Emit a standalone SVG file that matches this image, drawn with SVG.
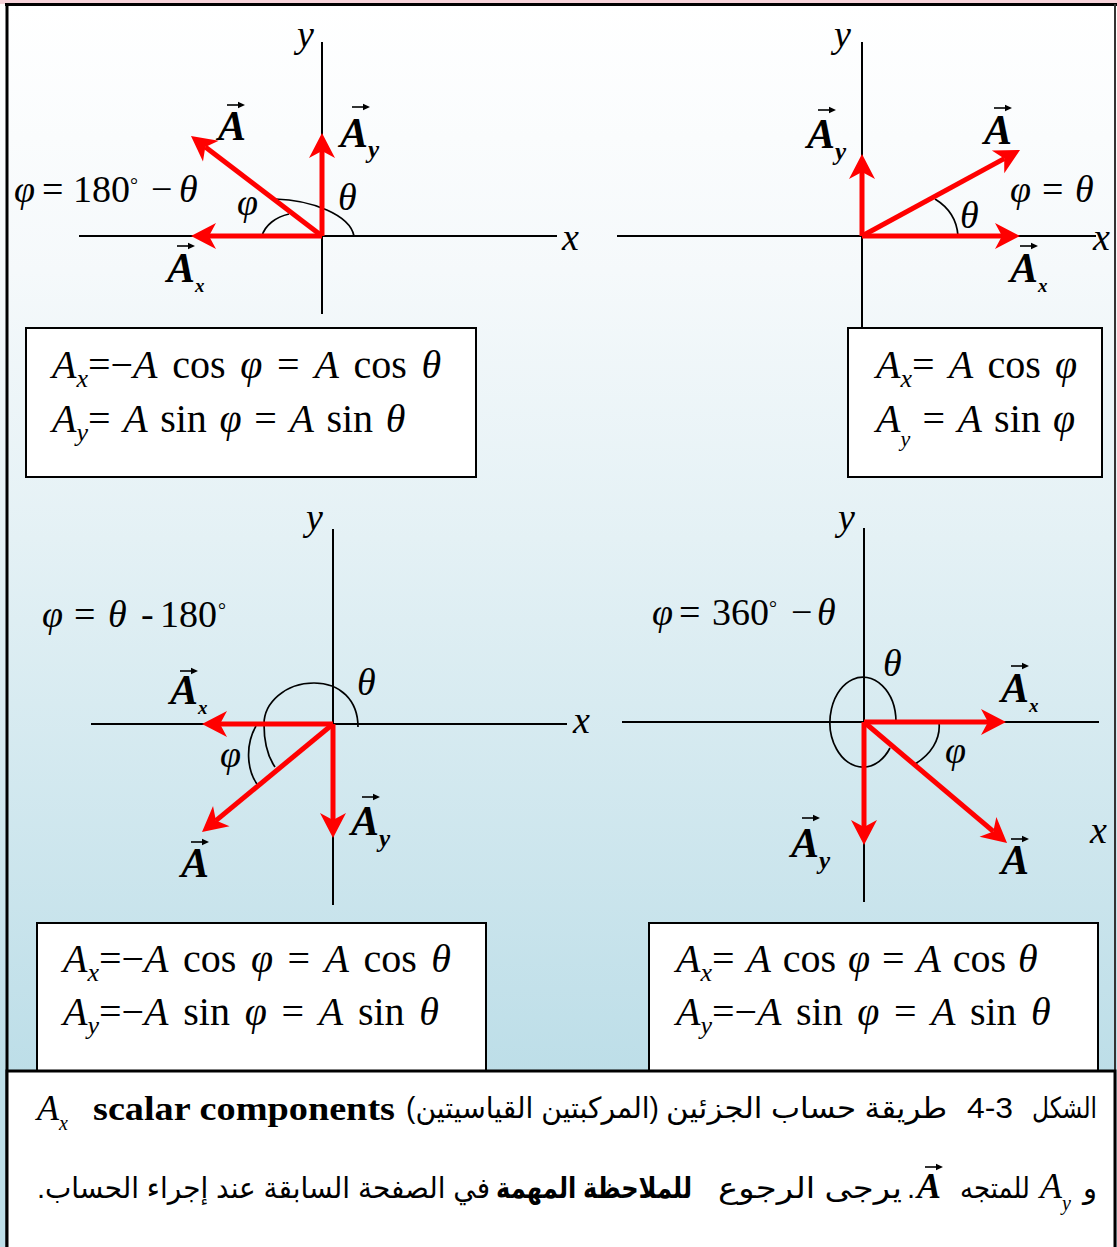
<svg xmlns="http://www.w3.org/2000/svg" xmlns:xlink="http://www.w3.org/1999/xlink" width="1117" height="1247" viewBox="0 0 1117 1247">
<defs>
<linearGradient id="bg" x1="0" y1="4" x2="0" y2="1072" gradientUnits="userSpaceOnUse">
<stop offset="0" stop-color="#ffffff"/>
<stop offset="0.25" stop-color="#f5f9fb"/>
<stop offset="0.5" stop-color="#e4f1f5"/>
<stop offset="1" stop-color="#bddee8"/>
</linearGradient>
<marker id="ah" markerUnits="userSpaceOnUse" markerWidth="30" markerHeight="30" viewBox="-10 -15 30 30" refX="0" refY="0" orient="auto" overflow="visible">
<path d="M18,0 L-7,-13 L0,0 L-7,13 Z" fill="#ff0000"/>
</marker>
<g id="vec"><path d="M0,0 H13" stroke="#000" stroke-width="1.6"/><path d="M18,0 L11,-3.2 L11,3.2 Z" fill="#000"/></g>
</defs>
<style>
.ax{stroke:#000;stroke-width:2;fill:none}
.arc{stroke:#000;stroke-width:1.7;fill:none}
.v{stroke:#ff0000;stroke-width:5;fill:none;marker-end:url(#ah)}
.t{font-family:'Liberation Serif','Times New Roman',serif;fill:#000}
.it{font-style:italic}
.bi{font-weight:bold;font-style:italic}
.box{fill:#fff;stroke:#000;stroke-width:2}
.eq{font-family:'Liberation Serif','Times New Roman',serif;font-size:40px;fill:#000}
.lab{font-family:'Liberation Serif','Times New Roman',serif;font-style:italic;font-size:38px;fill:#000}
.va{font-family:'Liberation Serif','Times New Roman',serif;font-weight:bold;font-style:italic;font-size:42px;fill:#000}
.ar{font-family:'Liberation Sans','DejaVu Sans',sans-serif;font-size:29px;fill:#000}
</style>

<rect x="0" y="0" width="1117" height="1247" fill="url(#bg)"/>
<rect x="0" y="0" width="1117" height="4" fill="#f7d3da"/>
<g id="frame">
<line x1="5" y1="4.5" x2="1117" y2="4.5" stroke="#000" stroke-width="3"/>
<line x1="7" y1="3" x2="7" y2="1247" stroke="#000" stroke-width="3"/>
<line x1="1115" y1="4" x2="1115" y2="1247" stroke="#333" stroke-width="2"/>
</g>

<!-- Panel 1 (top-left) -->
<g id="panel-tl">
<line class="ax" x1="322" y1="42" x2="322" y2="314"/>
<line class="ax" x1="79" y1="236" x2="557" y2="236"/>
<path class="arc" d="M354,236 C350,215 312,200 275,199"/>
<path class="arc" d="M262,236 C265,225 276,217 289,214"/>
<text class="lab" x="297" y="47">y</text>
<text class="lab" x="562" y="250">x</text>
<text class="t" y="202" font-size="38"><tspan class="it" x="14">φ</tspan><tspan x="42">=</tspan><tspan x="73">180</tspan><tspan x="130" y="192" font-size="20">°</tspan><tspan x="151" y="202">−</tspan><tspan class="it" x="179">θ</tspan></text>
<text class="lab" x="237" y="215">φ</text>
<text class="lab" x="338" y="210">θ</text>
<text class="va" x="218" y="140" font-size="40">A</text><use xlink:href="#vec" x="227" y="105"/>
<text class="va" x="340" y="147" font-size="44">A<tspan font-size="25" dy="11">y</tspan></text><use xlink:href="#vec" x="352" y="107"/>
<text class="va" x="167" y="282" font-size="44">A<tspan font-size="19" dy="10">x</tspan></text><use xlink:href="#vec" x="177" y="246"/>
</g>
<g id="box-tl">
<rect class="box" x="26" y="328" width="450" height="149"/>
<text class="eq" x="52" y="378" style="word-spacing:4.7px"><tspan class="it">A</tspan><tspan class="it" font-size="26" dy="9">x</tspan><tspan dy="-9">=−</tspan><tspan class="it">A</tspan> cos <tspan class="it">φ</tspan> = <tspan class="it">A</tspan> cos <tspan class="it">θ</tspan></text>
<text class="eq" x="52" y="432" style="word-spacing:2.6px"><tspan class="it">A</tspan><tspan class="it" font-size="26" dy="9">y</tspan><tspan dy="-9">= </tspan><tspan class="it">A</tspan> sin <tspan class="it">φ</tspan> = <tspan class="it">A</tspan> sin <tspan class="it">θ</tspan></text>
</g>

<!-- Panel 2 (top-right) -->
<g id="panel-tr">
<line class="ax" x1="862" y1="42" x2="862" y2="328"/>
<line class="ax" x1="617" y1="236" x2="1096" y2="236"/>
<path class="arc" d="M958,236 C957,220 948,207 935,199"/>
<text class="lab" x="834" y="47">y</text>
<text class="lab" x="1093" y="250">x</text>
<text class="t" y="202" font-size="38"><tspan class="it" x="1010">φ</tspan><tspan x="1042">=</tspan><tspan class="it" x="1075">θ</tspan></text>
<text class="lab" x="960" y="228">θ</text>
<text class="va" x="807" y="148" font-size="44">A<tspan font-size="25" dy="12">y</tspan></text><use xlink:href="#vec" x="818" y="110"/>
<text class="va" x="984" y="144" font-size="40">A</text><use xlink:href="#vec" x="994" y="108"/>
<text class="va" x="1010" y="282" font-size="44">A<tspan font-size="19" dy="10">x</tspan></text><use xlink:href="#vec" x="1020" y="246"/>
</g>
<g id="box-tr">
<rect class="box" x="848" y="328" width="254" height="149"/>
<text class="eq" x="876" y="378" style="word-spacing:4.2px"><tspan class="it">A</tspan><tspan class="it" font-size="26" dy="9">x</tspan><tspan dy="-9">= </tspan><tspan class="it">A</tspan> cos <tspan class="it">φ</tspan></text>
<text class="eq" x="876" y="432" style="word-spacing:2.3px"><tspan class="it">A</tspan><tspan class="it" font-size="22" dy="14">y</tspan><tspan dy="-14"> = </tspan><tspan class="it">A</tspan> sin <tspan class="it">φ</tspan></text>
</g>

<!-- Panel 3 (bottom-left) -->
<g id="panel-bl">
<line class="ax" x1="333" y1="529" x2="333" y2="905"/>
<line class="ax" x1="91" y1="724" x2="567" y2="724"/>
<path class="arc" d="M358,727 C358,700 340,683 314,683 C285,683 264,703 264,724 C264,742 268,757 275,767"/>
<path class="arc" d="M256,726 C245,745 247,770 257,784"/>
<text class="lab" x="306" y="530">y</text>
<text class="lab" x="573" y="733">x</text>
<text class="t" y="627" font-size="38"><tspan class="it" x="42">φ</tspan><tspan x="74">=</tspan><tspan class="it" x="108">θ</tspan><tspan x="141">-</tspan><tspan x="160">180</tspan><tspan x="218" y="617" font-size="20">°</tspan></text>
<text class="lab" x="357" y="695">θ</text>
<text class="lab" x="220" y="767">φ</text>
<text class="va" x="170" y="704" font-size="42">A<tspan font-size="19" dy="10">x</tspan></text><use xlink:href="#vec" x="180" y="671"/>
<text class="va" x="351" y="835" font-size="44">A<tspan font-size="25" dy="12">y</tspan></text><use xlink:href="#vec" x="362" y="797"/>
<text class="va" x="181" y="877" font-size="42">A</text><use xlink:href="#vec" x="191" y="842"/>
</g>
<g id="box-bl">
<rect class="box" x="37" y="923" width="449" height="170"/>
<text class="eq" x="63" y="972" style="word-spacing:4.5px"><tspan class="it">A</tspan><tspan class="it" font-size="26" dy="9">x</tspan><tspan dy="-9">=−</tspan><tspan class="it">A</tspan> cos <tspan class="it">φ</tspan> = <tspan class="it">A</tspan> cos <tspan class="it">θ</tspan></text>
<text class="eq" x="63" y="1025" style="word-spacing:4.7px"><tspan class="it">A</tspan><tspan class="it" font-size="26" dy="9">y</tspan><tspan dy="-9">=−</tspan><tspan class="it">A</tspan> sin <tspan class="it">φ</tspan> = <tspan class="it">A</tspan> sin <tspan class="it">θ</tspan></text>
</g>

<!-- Panel 4 (bottom-right) -->
<g id="panel-br">
<line class="ax" x1="864" y1="528" x2="864" y2="902"/>
<line class="ax" x1="622" y1="722" x2="1099" y2="722"/>
<path class="arc" d="M896,722 A33,45 0 1 0 890,748"/>
<path class="arc" d="M939,722 C941,740 930,755 915,764"/>
<text class="lab" x="838" y="530">y</text>
<text class="lab" x="1090" y="843">x</text>
<text class="t" y="625" font-size="38"><tspan class="it" x="652">φ</tspan><tspan x="679">=</tspan><tspan x="712">360</tspan><tspan x="769" y="615" font-size="20">°</tspan><tspan x="791" y="625">−</tspan><tspan class="it" x="817">θ</tspan></text>
<text class="lab" x="883" y="676">θ</text>
<text class="lab" x="945" y="763">φ</text>
<text class="va" x="1001" y="702" font-size="44">A<tspan font-size="19" dy="10">x</tspan></text><use xlink:href="#vec" x="1011" y="666"/>
<text class="va" x="791" y="857" font-size="44">A<tspan font-size="25" dy="12">y</tspan></text><use xlink:href="#vec" x="802" y="818"/>
<text class="va" x="1001" y="874" font-size="42">A</text><use xlink:href="#vec" x="1011" y="839"/>
</g>
<g id="box-br">
<rect class="box" x="649" y="923" width="449" height="170"/>
<text class="eq" x="676" y="972" style="word-spacing:1.9px"><tspan class="it">A</tspan><tspan class="it" font-size="26" dy="9">x</tspan><tspan dy="-9">= </tspan><tspan class="it">A</tspan> cos <tspan class="it">φ</tspan> = <tspan class="it">A</tspan> cos <tspan class="it">θ</tspan></text>
<text class="eq" x="676" y="1025" style="word-spacing:4.5px"><tspan class="it">A</tspan><tspan class="it" font-size="26" dy="9">y</tspan><tspan dy="-9">=−</tspan><tspan class="it">A</tspan> sin <tspan class="it">φ</tspan> = <tspan class="it">A</tspan> sin <tspan class="it">θ</tspan></text>
</g>

<!-- vectors (connectors) -->
<g id="vectors">
<line class="v" x1="322" y1="236" x2="322" y2="151"/>
<line class="v" x1="322" y1="236" x2="205.3" y2="146.9"/>
<line class="v" x1="322" y1="236" x2="209" y2="236"/>
<line class="v" x1="862" y1="236" x2="862" y2="172"/>
<line class="v" x1="862" y1="236" x2="1004.2" y2="158.6"/>
<line class="v" x1="862" y1="236" x2="1002" y2="236"/>
<line class="v" x1="333" y1="724" x2="220" y2="724"/>
<line class="v" x1="333" y1="724" x2="215.9" y2="820.6"/>
<line class="v" x1="333" y1="724" x2="333" y2="820"/>
<line class="v" x1="864" y1="722" x2="988" y2="722"/>
<line class="v" x1="864" y1="722" x2="864" y2="827"/>
<line class="v" x1="864" y1="722" x2="993.3" y2="831.4"/>
</g>

<!-- caption -->
<g id="caption">
<rect x="7" y="1071" width="1108" height="200" fill="#fff" stroke="#000" stroke-width="3"/>
<text class="t it" x="37" y="1120" font-size="36">A<tspan font-size="20" dy="10">x</tspan></text>
<text class="t" x="93" y="1120" font-size="34" font-weight="bold" textLength="302" lengthAdjust="spacingAndGlyphs">scalar components</text>
<text class="ar" x="406" y="1118" textLength="253" lengthAdjust="spacingAndGlyphs">(المركبتين القياسيتين)</text>
<text class="ar" x="666" y="1118" textLength="281" lengthAdjust="spacingAndGlyphs">طريقة حساب الجزئين</text>
<text class="ar" x="967" y="1118" textLength="46" lengthAdjust="spacingAndGlyphs">4-3</text>
<text class="ar" x="1032" y="1118" textLength="65" lengthAdjust="spacingAndGlyphs">الشكل</text>
<text class="ar" x="37" y="1198">.</text>
<text class="ar" x="45" y="1198" textLength="445" lengthAdjust="spacingAndGlyphs">في الصفحة السابقة عند إجراء الحساب</text>
<text class="ar" x="496" y="1198" fill="#ff0000" font-weight="bold" textLength="196" lengthAdjust="spacingAndGlyphs">للملاحظة المهمة</text>
<text class="ar" x="718" y="1198" textLength="184" lengthAdjust="spacingAndGlyphs">يرجى الرجوع</text>
<text class="ar" x="907" y="1198">.</text>
<text class="t bi" x="917" y="1198" font-size="36">A</text><use xlink:href="#vec" x="925" y="1167"/>
<text class="ar" x="960" y="1198" textLength="70" lengthAdjust="spacingAndGlyphs">للمتجه</text>
<text class="t it" x="1040" y="1198" font-size="36">A<tspan font-size="20" dy="12">y</tspan></text>
<text class="ar" x="1083" y="1198" textLength="14" lengthAdjust="spacingAndGlyphs">و</text>
</g>
</svg>
